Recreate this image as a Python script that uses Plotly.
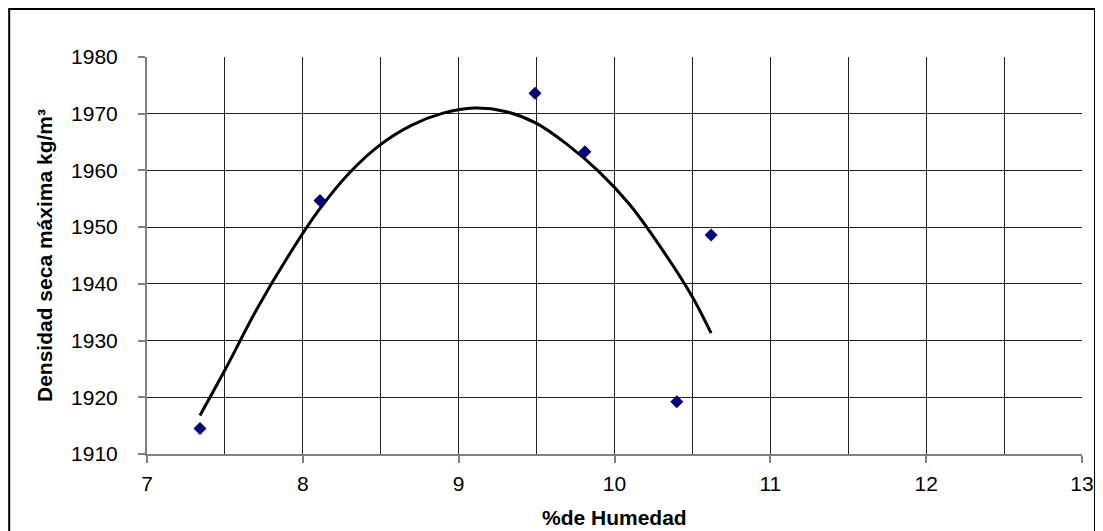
import plotly.graph_objects as go

# measured points
humedad = [7.34, 8.11, 9.49, 9.81, 10.40, 10.62]
densidad = [1914.5, 1954.7, 1973.6, 1963.3, 1919.2, 1948.6]

# trend curve
curva_x = [7.34, 7.5, 7.7, 7.9, 8.1, 8.3, 8.5, 8.7, 8.9, 9.1,
           9.3, 9.5, 9.7, 9.9, 10.1, 10.3, 10.5, 10.62]
curva_y = [1916.8, 1924.8, 1935.3, 1944.6, 1952.9, 1959.6, 1964.6, 1968.0, 1970.1, 1971.0,
           1970.4, 1968.3, 1964.5, 1959.8, 1953.9, 1946.3, 1937.7, 1931.3]

x_ticks = [7, 8, 9, 10, 11, 12, 13]
y_ticks = [1910, 1920, 1930, 1940, 1950, 1960, 1970, 1980]

font = "Liberation Sans, Arial, sans-serif"

fig = go.Figure()
fig.add_trace(go.Scatter(
    x=curva_x, y=curva_y, mode="lines",
    line=dict(color="black", width=3, shape="spline"),
    hoverinfo="skip",
))
fig.add_trace(go.Scatter(
    x=humedad, y=densidad, mode="markers",
    marker=dict(symbol="diamond", size=10, color="#000080"),
))

# page body has an 8px margin, so the figure is a bit smaller than the window
fig.update_layout(
    width=1095, height=523,
    margin=dict(l=139, r=21, t=49, b=77),
    paper_bgcolor="white", plot_bgcolor="white",
    showlegend=False,
    font=dict(family=font, size=21, color="black"),
    xaxis=dict(
        range=[7, 13], tickvals=x_ticks,
        showgrid=True, gridcolor="#222", gridwidth=1,
        minor=dict(dtick=0.5, showgrid=True, gridcolor="#222", gridwidth=1),
        showline=True, linecolor="#808080", linewidth=2,
        ticks="outside", ticklen=7, tickcolor="#808080", tickwidth=2,
        ticklabelstandoff=3,
        zeroline=False,
        automargin=False,
    ),
    yaxis=dict(
        range=[1910, 1980], tickvals=y_ticks,
        showgrid=True, gridcolor="#222", gridwidth=1,
        showline=True, linecolor="#808080", linewidth=2,
        ticks="outside", ticklen=7, tickcolor="#808080", tickwidth=2,
        ticklabelstandoff=16,
        zeroline=False,
        automargin=False,
        title=dict(text="<b>Densidad seca máxima kg/m³</b>", font=dict(size=21), standoff=13),
    ),
)

# x axis title placed by hand so it does not squeeze the plot area
fig.add_annotation(text="<b>%de Humedad</b>", xref="paper", yref="paper",
                   x=0.5, y=-0.1587, xanchor="center", yanchor="middle",
                   showarrow=False, font=dict(size=21))

# outer chart border
fig.add_shape(type="rect", xref="paper", yref="paper",
              x0=-0.1474, x1=1.0139, y0=-0.25, y1=1.1209,
              line=dict(color="black", width=2), layer="above")

fig.write_html("out.html")
